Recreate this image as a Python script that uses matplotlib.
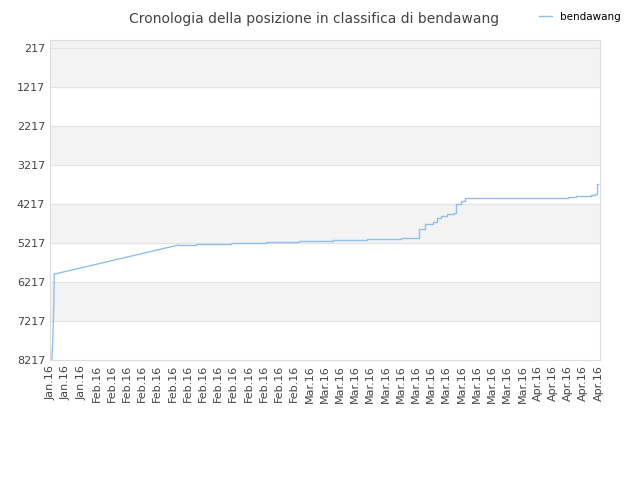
import matplotlib
matplotlib.use("Agg")
import matplotlib.pyplot as plt

tick_labels = ["Jan.16"] * 3 + ["Feb.16"] * 14 + ["Mar.16"] * 15 + ["Apr.16"] * 5
# position in tick-index units, ranking
pos = [0.07, 0.13, 0.2, 0.23, 0.26, 8.41, 9.53, 11.83, 14.13, 16.29, 18.53, 20.76,
       23.0, 24.18, 24.57, 25.1, 25.36, 25.62, 26.02, 26.48, 26.61, 26.94, 27.2,
       33.97, 34.49, 35.48, 35.74, 35.87, 35.95]
rank = [8217, 7755, 6806, 6012, 6012, 5268, 5243, 5217, 5191, 5166, 5140, 5114,
        5089, 4858, 4730, 4679, 4576, 4525, 4474, 4448, 4217, 4140, 4063,
        4037, 4012, 3986, 3960, 3704, 3704]
yticks = list(range(217, 8218, 1000))

fig = plt.figure(figsize=(6.4, 4.8), dpi=100)
ax = fig.add_axes([50 / 640, 120 / 480, 550 / 640, 320 / 480])

# sloped segment first, then stepped part
ax.plot(pos[:6], rank[:6], color="#90c0f0", lw=1)
ax.plot(pos[5:], rank[5:], color="#90c0f0", lw=1, drawstyle="steps-post",
        label="bendawang")

for i, y in enumerate(yticks[:-1]):
    if i % 2 == 0:
        ax.axhspan(y - 1000 if i == 0 else y, y + 1000, color="#f3f3f3", zorder=0)
    ax.axhline(y, color="#e4e4e4", lw=0.8, zorder=0)

ax.set_ylim(8217, 12)
ax.set_xlim(-0.05, 36.1)
ax.set_yticks(yticks)
ax.set_xticks(range(len(tick_labels)))
ax.set_xticklabels(tick_labels, rotation=90)
ax.tick_params(labelsize=8, colors="#444444", length=0)
for s in ax.spines.values():
    s.set_color("#dddddd")

fig.text(0.49, 0.975, "Cronologia della posizione in classifica di bendawang",
         ha="center", va="top", fontsize=10, color="#444444")
fig.legend(loc="upper right", bbox_to_anchor=(0.985, 0.995), frameon=False,
           fontsize=7.5, handlelength=1.2)

fig.savefig("out.png")
